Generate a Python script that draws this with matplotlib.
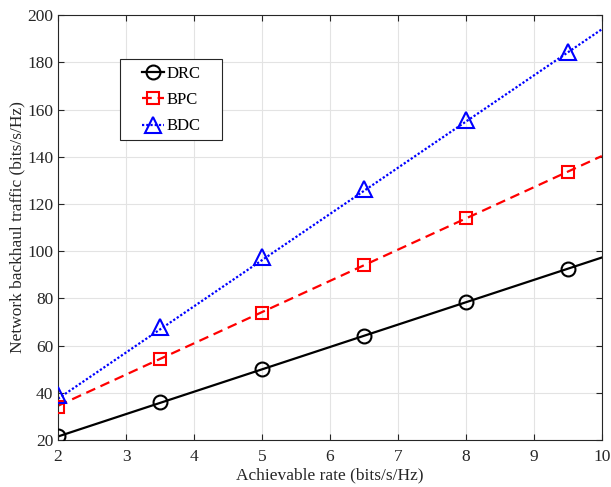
import matplotlib
matplotlib.use("Agg")
import matplotlib.pyplot as plt
from matplotlib.lines import Line2D
from matplotlib.patches import Rectangle

plt.rcParams['font.family'] = ['Liberation Serif', 'DejaVu Serif']
plt.rcParams['mathtext.fontset'] = 'stix'

# marker positions
rate = [2, 3.5, 5, 6.5, 8, 9.5]
drc = [21.5, 36, 50, 64, 78.5, 92.5]
bpc = [34, 54.5, 74, 94, 114, 133.5]
bdc = [39, 68, 97.5, 126.5, 155.5, 184.5]

# fitted lines, end points
line_x = [2, 10]
drc_line = [21.5, 97.3]
bpc_line = [34.5, 140.3]
bdc_line = [37.5, 194]

fig = plt.figure(figsize=(6.11, 4.87), dpi=100)
ax = fig.add_axes([0.095, 0.0965, 0.89, 0.8725])

styles = [
    ('DRC', drc, drc_line, 'k', '-', 'o', 10),
    ('BPC', bpc, bpc_line, 'r', (0, (4.4, 2.6)), 's', 9),
    ('BDC', bdc, bdc_line, 'b', (0, (1, 0.9)), '^', 11),
]

handles = []
for name, pts, ln, col, ls, mk, ms in styles:
    ax.plot(line_x, ln, color=col, linestyle=ls, linewidth=1.6, zorder=2)
    ax.plot(rate, pts, linestyle='none', marker=mk, markersize=ms,
            markerfacecolor='none', markeredgecolor=col, markeredgewidth=1.5, zorder=3)
    handles.append(Line2D([], [], color=col, linestyle=ls, linewidth=1.6, marker=mk,
                          markersize=ms, markerfacecolor='none', markeredgewidth=1.5))

ax.set_xlim(2, 10)
ax.set_ylim(20, 200)
ax.set_xticks(range(2, 11))
ax.set_yticks(range(20, 201, 20))
ax.grid(True, color='#e3e3e3', linewidth=0.8)
ax.set_axisbelow(True)
ax.tick_params(direction='in', top=True, right=True, labelsize=12.5,
               colors='#262626', length=4)
ax.tick_params(axis='x', pad=6.5)
for s in ax.spines.values():
    s.set_color('#262626')
    s.set_linewidth(0.8)

ax.set_xlabel('Achievable rate (bits/s/Hz)', fontsize=12.5, color='#262626', labelpad=2)
ax.set_ylabel('Network backhaul traffic (bits/s/Hz)', fontsize=12.5, color='#262626', labelpad=1)

# legend box drawn separately so it can be wider than the entries
ax.add_patch(Rectangle((0.114, 0.706), 0.1875, 0.1905, transform=ax.transAxes,
                       facecolor='white', edgecolor='#262626', linewidth=0.8, zorder=4))
leg = ax.legend(handles, ['DRC', 'BPC', 'BDC'], loc='upper left',
                bbox_to_anchor=(0.127, 0.916), fontsize=12, handlelength=1.3,
                handletextpad=0.15, borderpad=0.4, labelspacing=0.62,
                frameon=False)
leg.set_zorder(5)

fig.savefig('out.png', dpi=100)
